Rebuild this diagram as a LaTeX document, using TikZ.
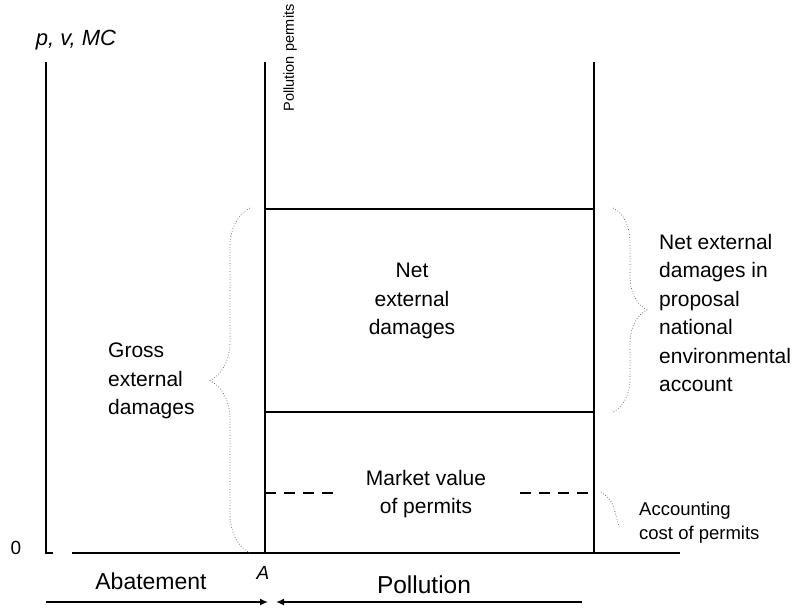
\documentclass[tikz,border=0pt]{standalone}
\usepackage{fontspec}
\setmainfont{Liberation Sans}
\usetikzlibrary{arrows.meta,decorations.pathreplacing}
\begin{document}
\begin{tikzpicture}[x=1pt,y=-1pt,
  axis/.style={line width=1.5pt},
  dashline/.style={line width=2.4pt, dash pattern=on 11pt off 8pt},
  bracestyle/.style={line width=0.7pt, dotted, gray!70!black,
     decorate, decoration={brace, amplitude=#1}},
  lbl/.style={font=\fontsize{21}{28.5}\selectfont, inner sep=0pt},
  small/.style={font=\fontsize{18.5}{24}\selectfont, inner sep=0pt, align=left},
  big/.style={font=\fontsize{23}{26}\selectfont, inner sep=0pt},
  arr/.style={line width=1.7pt, -{Latex[length=8pt,width=7pt]}}
]
\useasboundingbox (0,0) rectangle (793,608);

% coordinates
\coordinate (Ltop) at (46,62);
\coordinate (O) at (46,553);
\coordinate (Ofoot) at (53,553);
\coordinate (Bstart) at (72,553);
\coordinate (Bend) at (680,553);
\coordinate (Mtop) at (265,62);
\coordinate (A) at (265,553);
\coordinate (Rtop) at (594,62);
\coordinate (Rbot) at (594,553);
\coordinate (T1) at (265,209);
\coordinate (T2) at (594,209);
\coordinate (U1) at (265,412);
\coordinate (U2) at (594,412);
\coordinate (D1) at (265,493);
\coordinate (D2) at (340,493);
\coordinate (D3) at (520,493);
\coordinate (D4) at (594,493);

% axes and lines
\draw[axis] (Ltop) -- (O) -- (Ofoot);
\draw[axis] (Bstart) -- (Bend);
\draw[axis] (Mtop) -- (A);
\draw[axis] (Rtop) -- (Rbot);
\draw[axis] (T1) -- (T2);
\draw[axis] (U1) -- (U2);
\draw[dashline] (D1) -- (D2);
\draw[dashline] (D3) -- (D4);

% braces
\coordinate (GB1) at (250,553);
\coordinate (GB2) at (250,208);
\draw[bracestyle=40pt] (GB1) -- (GB2);
\coordinate (NB1) at (613,208);
\coordinate (NB2) at (613,412);
\draw[bracestyle=34pt] (NB1) -- (NB2);
\coordinate (AC1) at (601,492);
\coordinate (AC2) at (619,527);
\draw[line width=0.7pt, dotted, gray!70!black] (AC1) .. controls (612,500) .. (AC2);

% labels
\node[lbl, font=\fontsize{22}{24}\selectfont\itshape] (pv) at (76,40) {p, v, MC};
\node[lbl, font=\fontsize{14.5}{18}\selectfont, rotate=90] (pp) at (290,58) {Pollution permits};
\node[lbl, font=\fontsize{19}{24}\selectfont] (zero) at (16,548) {0};
\node[lbl, font=\fontsize{19}{24}\selectfont\itshape] (Alab) at (263,573) {A};
\node[lbl, align=center] (ned) at (412,301) {Net\\external\\damages};
\node[lbl, align=center] (mvp) at (426,494) {Market value\\of permits};
\node[lbl, align=left, anchor=west] (ged) at (108,381) {Gross\\external\\damages};
\node[lbl, align=left, anchor=west] (nen) at (659,313) {Net external\\damages in\\proposal\\national\\environmental\\account};
\node[small, anchor=west] (acc) at (639,523) {Accounting\\cost of permits};
\node[big] (abat) at (151,581) {Abatement};
\node[big, font=\fontsize{24.5}{26}\selectfont] (poll) at (424,585) {Pollution};

% bottom arrows
\coordinate (AbS) at (46,602);
\coordinate (AbE) at (268,602);
\coordinate (PoS) at (582,602);
\coordinate (PoE) at (276,602);
\draw[arr] (AbS) -- (AbE);
\draw[arr] (PoS) -- (PoE);
\end{tikzpicture}
\end{document}
